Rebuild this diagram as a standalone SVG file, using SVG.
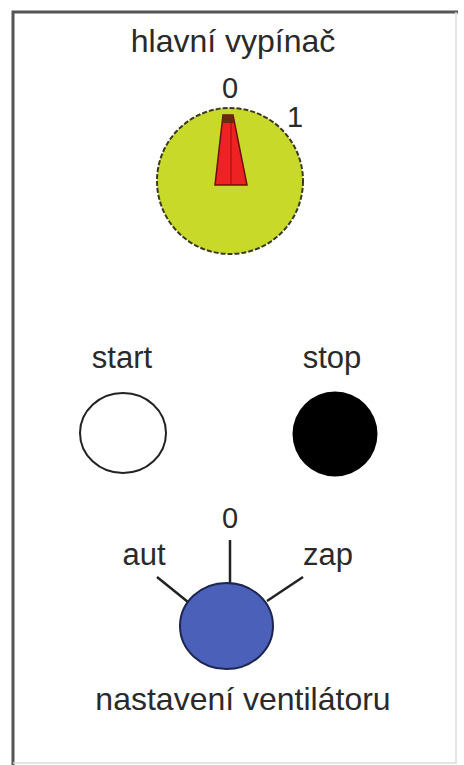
<svg xmlns="http://www.w3.org/2000/svg" width="464" height="765" viewBox="0 0 464 765">
<style>
text{font-family:"Liberation Sans",Arial,sans-serif;font-size:31px;fill:#2a2a2a;text-anchor:middle}
.ln{stroke:#222;stroke-width:2.5;fill:none}
</style>
<rect width="464" height="765" fill="#fff"/>
<g id="frame">
<polyline points="13,765 13,12 458,12" fill="none" stroke="#555" stroke-width="3"/>
<polyline points="456,12 456,763 13,763" fill="none" stroke="#ddd" stroke-width="1.5"/>
</g>
<g id="main-switch">
<text x="233" y="52" style="font-size:32px">hlavní vypínač</text>
<text x="230" y="98" style="font-size:29px">0</text>
<text x="295" y="127" style="font-size:29px">1</text>
<circle cx="230" cy="181" r="73" fill="#c9d92a" stroke="#3a3a20" stroke-width="2" stroke-dasharray="5 2"/>
<polygon points="223,115 233,115 247,185 215,185" fill="#ee2222" stroke="#6a1010" stroke-width="1.5"/>
<polygon points="223,115 233,115 234,123 222,123" fill="#6a2a10"/>
<line x1="231" y1="118" x2="231" y2="185" stroke="#8a1515" stroke-width="1"/>
</g>
<g id="start">
<text x="122" y="368">start</text>
<ellipse cx="123" cy="433" rx="43" ry="40" fill="#fff" stroke="#222" stroke-width="2"/>
</g>
<g id="stop">
<text x="332" y="368">stop</text>
<circle cx="335" cy="434" r="42.5" fill="#000"/>
</g>
<g id="connectors">
<line class="ln" x1="230" y1="540" x2="230" y2="585"/>
<line class="ln" x1="157" y1="577" x2="188" y2="602"/>
<line class="ln" x1="303" y1="577" x2="267" y2="601"/>
</g>
<g id="fan-setting">
<text x="230" y="528" style="font-size:29px">0</text>
<text x="144" y="565">aut</text>
<text x="328" y="565">zap</text>
<ellipse cx="226.5" cy="626" rx="46.5" ry="43" fill="#4b60b8" stroke="#1e2550" stroke-width="2"/>
<text x="243" y="710" style="font-size:32px">nastavení ventilátoru</text>
</g>
</svg>
